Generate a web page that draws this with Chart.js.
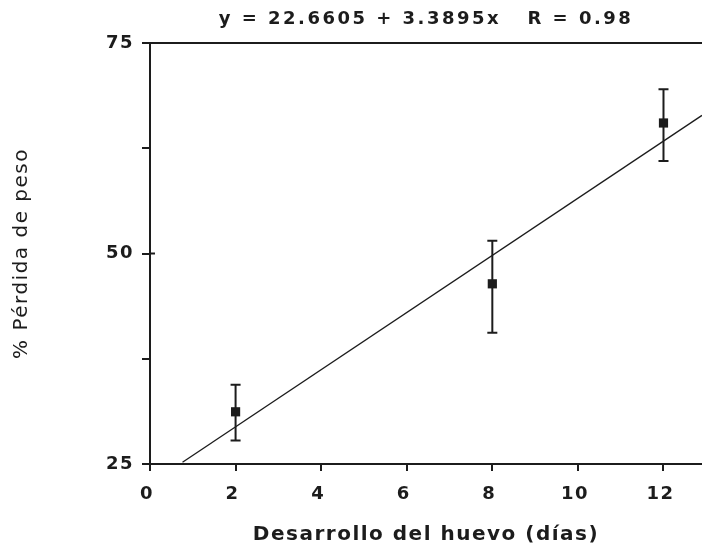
<!DOCTYPE html>
<html>
<head>
<meta charset="utf-8">
<script src="https://cdn.jsdelivr.net/npm/chart.js@4"></script>
<style>
  html, body { margin: 0; padding: 0; background: #fff; }
  #wrap { width: 702px; height: 552px; }
</style>
</head>
<body>
<div id="wrap"><canvas id="chartEgg"></canvas></div>
<script>
// Data
const days = [2, 8, 12];
const weightLoss = [31.2, 46.4, 65.5];
const errLow = [27.8, 40.6, 61.0];
const errHigh = [34.4, 51.5, 69.5];

// Regression line as drawn (end points)
const fitX = [0.76, 12.9];
const fitY = [25.2, 66.4];

const xTicks = [0, 2, 4, 6, 8, 10, 12];
const yTicks = [25, 50, 75];

const titleText = 'y = 22.6605 + 3.3895x   R = 0.98';
const ink = '#1c1c1c';
const fontFamily = "'DejaVu Sans', sans-serif";

Chart.defaults.font.family = fontFamily;
Chart.defaults.color = ink;

// The original uses a wide bitmap font, so open up the letters a bit
const spacing = {
    id: 'spacing',
    beforeDraw(chart) {
        chart.ctx.letterSpacing = '1.5px';
    }
};

// Error bars, top frame line, inner tick halves and the equation title
const extras = {
    id: 'extras',
    afterDatasetsDraw(chart) {
        const { ctx, chartArea, scales } = chart;
        const x = scales.x, y = scales.y;
        ctx.save();
        ctx.strokeStyle = ink;
        ctx.lineWidth = 2;

        // error bars
        days.forEach((d, i) => {
            const px = x.getPixelForValue(d);
            const top = y.getPixelForValue(errHigh[i]);
            const bot = y.getPixelForValue(errLow[i]);
            ctx.beginPath();
            ctx.moveTo(px, top);
            ctx.lineTo(px, bot);
            ctx.moveTo(px - 5, top);
            ctx.lineTo(px + 5, top);
            ctx.moveTo(px - 5, bot);
            ctx.lineTo(px + 5, bot);
            ctx.stroke();
        });

        // top frame line
        ctx.beginPath();
        ctx.moveTo(chartArea.left, chartArea.top);
        ctx.lineTo(chart.width, chartArea.top);
        ctx.stroke();

        // y ticks cross the axis a little
        yTicks.forEach(v => {
            const py = y.getPixelForValue(v);
            ctx.beginPath();
            ctx.moveTo(chartArea.left, py);
            ctx.lineTo(chartArea.left + 5, py);
            ctx.stroke();
        });

        // title
        ctx.fillStyle = ink;
        ctx.font = 'bold 18px ' + fontFamily;
        ctx.letterSpacing = '2.5px';
        ctx.textAlign = 'center';
        ctx.textBaseline = 'middle';
        ctx.fillText(titleText, (chartArea.left + chartArea.right) / 2, 19);
        ctx.restore();
    }
};

new Chart(document.getElementById('chartEgg'), {
    type: 'scatter',
    data: {
        datasets: [
            {
                type: 'line',
                label: 'Ajuste',
                data: fitX.map((v, i) => ({ x: v, y: fitY[i] })),
                borderColor: ink,
                borderWidth: 1.3,
                pointRadius: 0,
                fill: false
            },
            {
                label: '% Pérdida de peso',
                data: days.map((d, i) => ({ x: d, y: weightLoss[i] })),
                pointStyle: 'rect',
                pointRadius: 6.5,
                backgroundColor: ink,
                borderColor: ink,
                borderWidth: 0
            }
        ]
    },
    options: {
        responsive: true,
        maintainAspectRatio: false,
        animation: false,
        layout: {
            autoPadding: false,
            padding: { top: 43, left: 0, right: 0, bottom: 0 }
        },
        plugins: {
            legend: { display: false },
            tooltip: { enabled: false }
        },
        scales: {
            x: {
                type: 'linear',
                min: 0,
                max: 12.9,
                afterFit(scale) {
                    scale.height = 88;
                    scale.paddingRight = 0;
                },
                afterBuildTicks(scale) {
                    scale.ticks = xTicks.map(v => ({ value: v }));
                },
                border: { display: true, color: ink, width: 2 },
                grid: {
                    drawOnChartArea: false,
                    color: ink,
                    tickLength: 7,
                    lineWidth: 2
                },
                ticks: {
                    padding: 13,
                    labelOffset: -3,
                    color: ink,
                    font: { size: 18, weight: 'bold' }
                },
                title: {
                    display: true,
                    text: 'Desarrollo del huevo (días)',
                    color: ink,
                    font: { size: 20, weight: 'bold' },
                    padding: { top: 0, bottom: 5 }
                }
            },
            y: {
                type: 'linear',
                min: 25,
                max: 75,
                afterFit(scale) { scale.width = 150; },
                afterBuildTicks(scale) {
                    scale.ticks = [25, 37.5, 50, 62.5, 75].map(v => ({ value: v }));
                },
                border: { display: true, color: ink, width: 2 },
                grid: {
                    drawOnChartArea: false,
                    color: ink,
                    tickLength: 8,
                    lineWidth: 2
                },
                ticks: {
                    padding: 8,
                    color: ink,
                    font: { size: 18, weight: 'bold' },
                    callback: function(value) {
                        return yTicks.includes(value) ? value : '';
                    }
                },
                title: {
                    display: true,
                    text: '% Pérdida de peso',
                    color: ink,
                    font: { size: 20 },
                    padding: { top: 10, bottom: 0 }
                }
            }
        }
    },
    plugins: [spacing, extras]
});
</script>
</body>
</html>
